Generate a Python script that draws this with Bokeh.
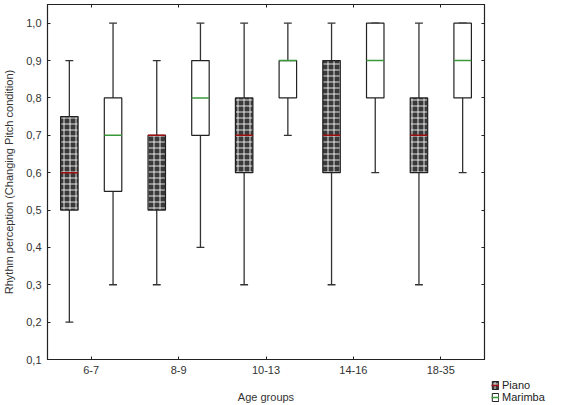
from bokeh.plotting import figure
from bokeh.layouts import row, column
from bokeh.models import (FactorRange, Range1d, FixedTicker, LinearAxis, CategoricalAxis,
                          Legend, LegendItem, ColumnDataSource, Spacer)
from bokeh.transform import dodge
from bokeh.embed import file_html
from bokeh.resources import INLINE

groups = ["6-7", "8-9", "10-13", "14-16", "18-35"]

piano_low = [0.2, 0.3, 0.3, 0.3, 0.3]
piano_q1 = [0.5, 0.5, 0.6, 0.6, 0.6]
piano_med = [0.6, 0.7, 0.7, 0.7, 0.7]
piano_q3 = [0.75, 0.7, 0.8, 0.9, 0.8]
piano_high = [0.9, 0.9, 1.0, 1.0, 1.0]

marimba_low = [0.3, 0.4, 0.7, 0.6, 0.6]
marimba_q1 = [0.55, 0.7, 0.8, 0.8, 0.8]
marimba_med = [0.7, 0.8, 0.9, 0.9, 0.9]
marimba_q3 = [0.8, 0.9, 0.9, 1.0, 1.0]
marimba_high = [1.0, 1.0, 1.0, 1.0, 1.0]

series_names = ["Piano", "Marimba"]

y_ticks = [0.1, 0.2, 0.3, 0.4, 0.5, 0.6, 0.7, 0.8, 0.9, 1.0]
y_tick_labels = ["0,1", "0,2", "0,3", "0,4", "0,5", "0,6", "0,7", "0,8", "0,9", "1,0"]

FONT = "Liberation Sans"
PIANO_FILL = "#3a3a3a"
PIANO_HATCH = dict(hatch_pattern="cross", hatch_color="white", hatch_scale=6, hatch_weight=1,
                   hatch_alpha=0.85)
PIANO_MED = "#a01010"
MARIMBA_MED = "#3a9a3a"

p = figure(width=488, height=405, x_range=FactorRange(*groups, range_padding=0),
           y_range=Range1d(0.1, 1.05), output_backend="svg", toolbar_location=None,
           min_border_left=44, min_border_right=4, min_border_top=4, min_border_bottom=42)
p.xgrid.visible = False
p.ygrid.visible = False
p.outline_line_color = "#222222"
p.outline_line_width = 1.2
p.background_fill_color = "white"
p.border_fill_color = "white"

def style_axis(ax, labels=True):
    ax.major_tick_in = 3
    ax.major_tick_out = 0
    ax.minor_tick_in = 0
    ax.minor_tick_out = 0
    ax.axis_line_color = "#222222"
    ax.major_tick_line_color = "#222222"
    ax.major_label_text_font = FONT
    if labels:
        ax.major_label_text_font_size = "11px"
        ax.major_label_text_color = "#333333"
        ax.major_label_standoff = 6
    else:
        ax.major_label_text_font_size = "1px"
        ax.major_label_text_color = None
        ax.major_label_standoff = 0
    ax.axis_label_text_font = FONT
    ax.axis_label_text_font_size = "11px"
    ax.axis_label_text_font_style = "normal"
    ax.axis_label_text_color = "#333333"

p.yaxis.ticker = FixedTicker(ticks=y_ticks)
p.yaxis.major_label_overrides = {t: l for t, l in zip(y_ticks, y_tick_labels)}
p.yaxis.axis_label = "Rhythm perception (Changing Pitch condition)"
p.xaxis.axis_label = "Age groups"
style_axis(p.xaxis[0])
style_axis(p.yaxis[0])
p.yaxis.axis_label_standoff = 8
p.xaxis.axis_label_standoff = 14

ra = LinearAxis(ticker=FixedTicker(ticks=y_ticks))
style_axis(ra, labels=False)
p.add_layout(ra, "right")
ta = CategoricalAxis()
style_axis(ta, labels=False)
p.add_layout(ta, "above")

def draw(low, q1, med, q3, high, off, fill, hatch, med_color):
    src = ColumnDataSource(dict(g=groups, low=low, q1=q1, med=med, q3=q3, high=high))
    xc = dodge("g", off, range=p.x_range)
    p.segment(x0=xc, x1=xc, y0="low", y1="q1", source=src, line_color="#333333", line_width=1.3)
    p.segment(x0=xc, x1=xc, y0="q3", y1="high", source=src, line_color="#333333", line_width=1.3)
    p.segment(x0=dodge("g", off - 0.045, range=p.x_range), x1=dodge("g", off + 0.045, range=p.x_range),
              y0="low", y1="low", source=src, line_color="#333333", line_width=1.3)
    p.segment(x0=dodge("g", off - 0.045, range=p.x_range), x1=dodge("g", off + 0.045, range=p.x_range),
              y0="high", y1="high", source=src, line_color="#333333", line_width=1.3)
    kw = PIANO_HATCH if hatch else {}
    p.vbar(x=xc, width=0.2, bottom="q1", top="q3", source=src, fill_color=fill,
           line_color="#222222", line_width=1.2, **kw)
    p.segment(x0=dodge("g", off - 0.1, range=p.x_range), x1=dodge("g", off + 0.1, range=p.x_range),
              y0="med", y1="med", source=src, line_color=med_color, line_width=1.5)

draw(piano_low, piano_q1, piano_med, piano_q3, piano_high, -0.25, PIANO_FILL, True, PIANO_MED)
draw(marimba_low, marimba_q1, marimba_med, marimba_q3, marimba_high, 0.25, "white", False, MARIMBA_MED)

# legend: a small companion figure placed below-right of the plot frame
lg = figure(width=73, height=42, x_range=Range1d(0, 1), y_range=Range1d(0, 1),
            output_backend="svg", toolbar_location=None, x_axis_location=None,
            y_axis_location=None, min_border=0)
lg.xgrid.visible = False
lg.ygrid.visible = False
lg.outline_line_color = None
lg.border_fill_color = "white"
lg.background_fill_color = "white"
# swatch renderers, kept outside the visible range (only their styles are used)
pb = lg.vbar(x=[-5], width=0.1, bottom=[-5], top=[-4], fill_color=PIANO_FILL, line_color="#222222",
             line_width=1.0, **PIANO_HATCH)
pm = lg.segment(x0=[-5], x1=[-4], y0=[-5], y1=[-5], line_color=PIANO_MED, line_width=1.5)
mb = lg.vbar(x=[-5], width=0.1, bottom=[-5], top=[-4], fill_color="white", line_color="#222222",
             line_width=1.0)
mm = lg.segment(x0=[-5], x1=[-4], y0=[-5], y1=[-5], line_color=MARIMBA_MED, line_width=1.5)

legend = Legend(items=[LegendItem(label=series_names[0], renderers=[pb, pm]),
                       LegendItem(label=series_names[1], renderers=[mb, mm])],
                location=(3, 2), orientation="vertical", padding=0, margin=0,
                spacing=0, glyph_width=8, glyph_height=10, label_height=10,
                label_standoff=3, label_text_font=FONT, label_text_font_size="11px",
                label_text_color="#222222", border_line_color=None, background_fill_alpha=0)
lg.add_layout(legend, "center")

side = column(Spacer(width=73, height=363), lg, spacing=0)
layout = row(p, side, spacing=0)
open("out.html", "w").write(file_html(layout, INLINE))
